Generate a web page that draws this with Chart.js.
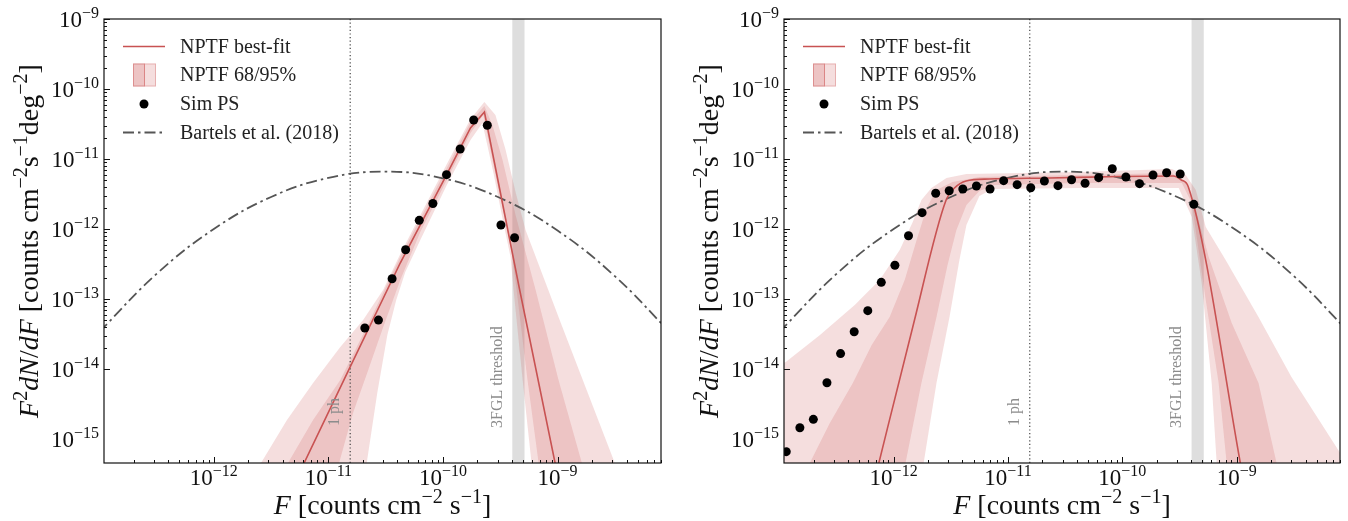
<!DOCTYPE html>
<html>
<head>
<meta charset="utf-8">
<script src="https://cdn.jsdelivr.net/npm/chart.js@4.4.0/dist/chart.umd.min.js"></script>
<style>
  html, body { margin: 0; padding: 0; background: #fff; }
  #wrap { display: flex; width: 1348px; height: 521px; }
  canvas { display: block; }
</style>
</head>
<body>
<div id="wrap">
  <canvas id="left" width="674" height="521"></canvas>
  <canvas id="right" width="674" height="521"></canvas>
</div>
<script>
// axis limits and tick labels (powers of ten)
const xLim = [1.1e-13, 8e-9];
const yLim = [4.54e-16, 1e-9];
const xTickExps = [-12, -11, -10, -9];
const yTickExps = [-15, -14, -13, -12, -11, -10, -9];
const legendLabels = ['NPTF best-fit', 'NPTF 68/95%', 'Sim PS', 'Bartels et al. (2018)'];

// flux bins of the simulated point sources [counts cm^-2 s^-1]
const fluxBins = [1.151e-13, 1.514e-13, 1.986e-13, 2.612e-13, 3.436e-13, 4.519e-13, 5.943e-13, 7.80e-13,
  1.026e-12, 1.349e-12, 1.774e-12, 2.333e-12, 3.062e-12, 4.027e-12, 5.297e-12, 6.966e-12, 9.162e-12,
  1.202e-11, 1.581e-11, 2.080e-11, 2.735e-11, 3.597e-11, 4.721e-11, 6.209e-11, 8.166e-11,
  1.074e-10, 1.413e-10, 1.854e-10, 2.438e-10, 3.206e-10, 4.217e-10];

// Sim PS, left panel (last 12 bins only)
const simLeft = [3.85e-14, 5.0e-14, 1.95e-13, 5.06e-13, 1.33e-12, 2.31e-12, 5.97e-12, 1.39e-11,
  3.61e-11, 3.03e-11, 1.14e-12, 7.5e-13];
// Sim PS, right panel (all bins)
const simRight = [6.59e-16, 1.45e-15, 1.91e-15, 6.37e-15, 1.66e-14, 3.41e-14, 6.81e-14, 1.73e-13,
  3.03e-13, 8.01e-13, 1.71e-12, 3.24e-12, 3.52e-12, 3.73e-12, 4.11e-12, 3.73e-12, 4.90e-12, 4.30e-12,
  3.89e-12, 4.85e-12, 4.16e-12, 5.06e-12, 4.50e-12, 5.41e-12, 7.26e-12, 5.53e-12, 4.44e-12, 5.91e-12,
  6.37e-12, 6.11e-12, 2.25e-12];

// NPTF best-fit curves
const fitLeftF = [5.21e-12, 1.549e-11, 4.236e-11, 1.072e-10, 1.738e-10, 2.301e-10, 4.656e-10, 1.064e-9];
const fitLeftY = [2.594e-16, 1.069e-14, 3.266e-13, 5.902e-12, 2.773e-11, 4.688e-11, 1.39e-13, 1.866e-16];
const fitRightF = [6.82e-13, 1.472e-12, 2.877e-12, 3.404e-12, 4.305e-12, 6.871e-12, 2.291e-11, 9.333e-11,
  2.793e-10, 3.281e-10, 3.776e-10, 1.148e-9];
const fitRightY = [2.59e-16, 4.02e-14, 2.594e-12, 3.855e-12, 4.853e-12, 5.176e-12, 5.358e-12, 5.623e-12,
  5.715e-12, 5.012e-12, 3.981e-12, 2.512e-16];

// NPTF bands, outline = upper edge left->right then lower edge right->left
const band95LeftF = [2.29e-12, 2.58e-12, 4.35e-12, 7.35e-12, 1.27e-11, 2.01e-11, 3.01e-11, 4.24e-11, 1.07e-10,
  1.74e-10, 2.30e-10, 2.87e-10, 3.52e-10, 4.30e-10, 5.26e-10, 1.06e-9, 3.16e-9, 3.57e-9,
  6.43e-10, 5.93e-10, 4.96e-10, 4.13e-10, 3.89e-10, 3.37e-10, 2.76e-10, 2.21e-10, 1.74e-10, 1.07e-10,
  6.34e-11, 4.69e-11, 3.91e-11, 3.27e-11, 2.67e-11, 2.18e-11, 2.09e-11];
const band95LeftY = [2.77e-16, 4.54e-16, 1.87e-15, 6.31e-15, 2.06e-14, 5.01e-14, 1.35e-13, 4.40e-13, 8.20e-12,
  3.73e-11, 6.52e-11, 4.25e-11, 1.35e-11, 3.38e-12, 9.68e-13, 4.69e-14, 4.54e-16, 2.77e-16,
  2.77e-16, 4.54e-16, 6.97e-15, 1.35e-13, 3.98e-13, 1.22e-12, 6.31e-12, 3.27e-11, 1.87e-11, 4.11e-12,
  6.97e-13, 2.43e-13, 9.68e-14, 3.06e-14, 4.54e-15, 5.01e-16, 2.77e-16];
const band68LeftF = [3.94e-12, 4.44e-12, 7.35e-12, 1.27e-11, 2.14e-11, 4.24e-11, 1.07e-10, 1.74e-10, 2.30e-10,
  2.70e-10, 3.31e-10, 4.30e-10, 6.43e-10, 1.02e-9, 1.63e-9, 1.76e-9,
  7.11e-10, 6.84e-10, 5.47e-10, 4.39e-10, 3.96e-10, 3.06e-10, 2.25e-10, 1.74e-10, 1.07e-10, 6.34e-11,
  4.24e-11, 3.01e-11, 2.18e-11, 1.64e-11, 1.24e-11, 1.19e-11];
const band68LeftY = [2.77e-16, 4.54e-16, 1.87e-15, 6.97e-15, 3.85e-14, 3.98e-13, 7.20e-12, 3.38e-11, 5.71e-11,
  3.06e-11, 9.68e-12, 1.59e-12, 1.35e-13, 6.97e-15, 4.54e-16, 2.77e-16,
  2.77e-16, 4.54e-16, 6.97e-15, 1.35e-13, 5.01e-13, 3.61e-12, 4.25e-11, 2.35e-11, 4.85e-12, 9.06e-13,
  1.87e-13, 3.98e-14, 8.77e-15, 2.35e-15, 4.54e-16, 2.77e-16];
const band95RightF = [8.30e-14, 1.14e-13, 2.27e-13, 4.57e-13, 7.55e-13, 1.13e-12, 1.47e-12, 1.75e-12, 2.14e-12,
  2.90e-12, 4.33e-12, 4.19e-11, 2.70e-10, 3.58e-10, 4.39e-10, 5.36e-10, 8.0e-10, 1.55e-9, 3.01e-9,
  8.55e-9, 9.46e-9, 9.46e-9,
  6.82e-10, 6.68e-10, 6.04e-10, 4.94e-10, 4.05e-10, 3.11e-10, 4.19e-11, 7.30e-12, 5.62e-12, 4.33e-12,
  3.76e-12, 3.08e-12, 2.37e-12, 1.83e-12, 1.75e-12, 8.30e-14];
const band95RightY = [9.36e-15, 1.26e-14, 3.06e-14, 8.20e-14, 1.87e-13, 5.01e-13, 1.26e-12, 2.59e-12, 3.86e-12,
  5.36e-12, 6.11e-12, 6.52e-12, 7.20e-12, 5.90e-12, 3.61e-12, 1.07e-12, 3.61e-13, 5.53e-14, 7.69e-15,
  5.36e-16, 3.61e-16, 1.35e-16,
  1.35e-16, 4.54e-16, 6.31e-15, 1.69e-13, 1.48e-12, 3.86e-12, 3.86e-12, 3.73e-12, 2.96e-12, 1.14e-12,
  3.61e-13, 5.53e-14, 6.31e-15, 4.54e-16, 1.35e-16, 1.35e-16];
const band68RightF = [1.68e-13, 1.85e-13, 2.77e-13, 4.40e-13, 6.43e-13, 9.23e-13, 1.25e-12, 1.59e-12, 1.94e-12,
  2.37e-12, 3.27e-12, 5.62e-12, 4.19e-11, 2.70e-10, 3.58e-10, 4.39e-10, 5.69e-10, 9.04e-10, 1.55e-9,
  2.23e-9, 2.37e-9,
  8.33e-10, 8.17e-10, 6.95e-10, 5.36e-10, 4.05e-10, 3.31e-10, 4.19e-11, 7.60e-12, 5.62e-12, 4.33e-12,
  3.54e-12, 2.96e-12, 2.37e-12, 1.75e-12, 1.27e-12, 1.20e-12];
const band68RightY = [2.59e-16, 4.54e-16, 1.69e-15, 6.31e-15, 2.20e-14, 5.53e-14, 1.87e-13, 6.97e-13, 2.0e-12,
  3.61e-12, 4.69e-12, 5.53e-12, 5.90e-12, 6.31e-12, 4.69e-12, 1.87e-12, 3.98e-13, 4.54e-14, 6.31e-15,
  4.54e-16, 2.59e-16,
  2.59e-16, 4.54e-16, 6.31e-15, 9.68e-14, 2.35e-12, 4.54e-12, 4.54e-12, 4.25e-12, 3.49e-12, 2.20e-12,
  9.68e-13, 3.06e-13, 5.53e-14, 6.31e-15, 4.54e-16, 2.59e-16];

// Bartels et al. (2018) source-count curve
const bartelsF = [1e-13, 3.162e-13, 1e-12, 3.162e-12, 1e-11, 3.162e-11, 1e-10, 3.162e-10, 1e-9, 3.162e-9, 1e-8];
const bartelsY = [3.38e-14, 2.28e-13, 1.0e-12, 2.87e-12, 5.38e-12, 6.61e-12, 5.30e-12, 2.77e-12, 9.5e-13, 2.12e-13, 3.10e-14];

// markers
const onePhFlux = 1.55e-11;
const thresholdF = [4.03e-10, 5.15e-10];

const fitColor = 'rgb(200,82,82)';
const bandColor = 'rgba(205,92,92,0.2)';
const dashColor = '#555';
const dashDot = [11, 4, 2.5, 4];
const SERIF = "'Liberation Serif', 'DejaVu Serif', serif";

const zip = (xs, ys) => xs.map((x, i) => ({x: x, y: ys[i]}));

function fontOf(style, size) {
    const s = style.includes('s') ? Math.round(size * 0.7) : size;
    return (style.includes('i') ? 'italic ' : '') + s + 'px ' + SERIF;
}

function richWidth(ctx, parts, size) {
    let w = 0;
    parts.forEach(p => {
        ctx.font = fontOf(p[1], size);
        w += ctx.measureText(p[0]).width;
    });
    return w;
}

// draws [text, style] pieces along a baseline; style 'i' italic, 's' superscript
function drawRich(ctx, parts, x, y, size) {
    let cx = x;
    parts.forEach(p => {
        ctx.font = fontOf(p[1], size);
        const dy = p[1].includes('s') ? -size * 0.4 : 0;
        ctx.fillText(p[0], cx, y + dy);
        cx += ctx.measureText(p[0]).width;
    });
}

const powParts = e => [['10', ''], ['\u2212' + Math.abs(e), 's']];

const xTitle = [['F', 'i'], [' [counts cm', ''], ['\u22122', 's'], [' s', ''], ['\u22121', 's'], [']', '']];
const yTitle = [['F', 'i'], ['2', 's'], ['dN', 'i'], ['/', ''], ['dF', 'i'], [' [counts cm', ''], ['\u22122', 's'],
    ['s', ''], ['\u22121', 's'], ['deg', ''], ['\u22122', 's'], [']', '']];

const mplAxes = {
    id: 'mplAxes',
    afterDraw(chart) {
        const ctx = chart.ctx;
        const a = chart.chartArea;
        const xs = chart.scales.x, ys = chart.scales.y;
        ctx.save();
        ctx.textAlign = 'left';
        ctx.textBaseline = 'alphabetic';

        // ticks pointing inward, left and bottom only
        ctx.strokeStyle = '#111';
        ctx.lineWidth = 1;
        ctx.beginPath();
        for (let e = -14; e <= -8; e++) {
            for (let m = 1; m <= 9; m++) {
                const v = m * Math.pow(10, e);
                const len = m === 1 ? 6 : 3;
                if (v >= xLim[0] && v <= xLim[1]) {
                    const px = Math.round(xs.getPixelForValue(v)) + 0.5;
                    ctx.moveTo(px, a.bottom);
                    ctx.lineTo(px, a.bottom - len);
                }
                if (v >= yLim[0] && v <= yLim[1]) {
                    const py = Math.round(ys.getPixelForValue(v)) + 0.5;
                    ctx.moveTo(a.left, py);
                    ctx.lineTo(a.left + len, py);
                }
            }
        }
        ctx.stroke();

        // frame
        ctx.lineWidth = 1.2;
        ctx.strokeRect(a.left, a.top, a.right - a.left, a.bottom - a.top);

        // tick labels
        ctx.fillStyle = '#111';
        const ts = 23;
        xTickExps.forEach(e => {
            const parts = powParts(e);
            const w = richWidth(ctx, parts, ts);
            drawRich(ctx, parts, xs.getPixelForValue(Math.pow(10, e)) - w / 2, a.bottom + 22, ts);
        });
        yTickExps.forEach(e => {
            const parts = powParts(e);
            const w = richWidth(ctx, parts, ts);
            drawRich(ctx, parts, a.left - 5 - w, ys.getPixelForValue(Math.pow(10, e)) + 7.8, ts);
        });

        // axis titles
        const fs = 28;
        const wx = richWidth(ctx, xTitle, fs);
        drawRich(ctx, xTitle, (a.left + a.right) / 2 - wx / 2, 514, fs);
        const wy = richWidth(ctx, yTitle, fs);
        ctx.save();
        ctx.translate(a.left - 66, (a.top + a.bottom) / 2);
        ctx.rotate(-Math.PI / 2);
        drawRich(ctx, yTitle, -wy / 2, 0, fs);
        ctx.restore();

        // rotated marker labels
        ctx.fillStyle = '#8c8c8c';
        ctx.font = '16px ' + SERIF;
        ctx.textBaseline = 'middle';
        [[onePhFlux, '1 ph', 426], [thresholdF[0], '3FGL threshold', 428]].forEach(m => {
            ctx.save();
            ctx.translate(xs.getPixelForValue(m[0]) - 15, m[2]);
            ctx.rotate(-Math.PI / 2);
            ctx.fillText(m[1], 0, 0);
            ctx.restore();
        });

        // legend
        const rows = [a.top + 27.5, a.top + 56, a.top + 85, a.top + 113.5];
        const h0 = a.left + 19, h1 = a.left + 61;
        ctx.lineWidth = 1.6;
        ctx.strokeStyle = fitColor;
        ctx.beginPath();
        ctx.moveTo(h0, rows[0]);
        ctx.lineTo(h1, rows[0]);
        ctx.stroke();

        ctx.lineWidth = 1;
        ctx.fillStyle = 'rgba(205,92,92,0.36)';
        ctx.strokeStyle = 'rgba(205,92,92,0.5)';
        ctx.fillRect(a.left + 29, rows[1] - 11.5, 11, 23);
        ctx.strokeRect(a.left + 29.5, rows[1] - 11, 11, 22);
        ctx.fillStyle = bandColor;
        ctx.strokeStyle = 'rgba(205,92,92,0.35)';
        ctx.fillRect(a.left + 40, rows[1] - 11.5, 12, 23);
        ctx.strokeRect(a.left + 40.5, rows[1] - 11, 11, 22);

        ctx.fillStyle = '#000';
        ctx.beginPath();
        ctx.arc(a.left + 40, rows[2], 4.5, 0, Math.PI * 2);
        ctx.fill();

        ctx.strokeStyle = dashColor;
        ctx.lineWidth = 1.8;
        ctx.setLineDash(dashDot);
        ctx.beginPath();
        ctx.moveTo(h0, rows[3]);
        ctx.lineTo(h1, rows[3]);
        ctx.stroke();
        ctx.setLineDash([]);

        ctx.fillStyle = '#222';
        ctx.font = '20px ' + SERIF;
        legendLabels.forEach((t, i) => ctx.fillText(t, a.left + 76, rows[i] + 1));
        ctx.restore();
    }
};

function makePanel(id, p) {
    return new Chart(document.getElementById(id), {
        type: 'line',
        data: {
            datasets: [
                {
                    label: 'Sim PS', data: zip(p.simF, p.simY), showLine: false,
                    pointRadius: 4.5, pointBackgroundColor: '#000', pointBorderWidth: 0, order: 0
                },
                {
                    label: 'NPTF best-fit', data: zip(p.fitF, p.fitY), borderColor: fitColor, borderWidth: 1.6,
                    pointRadius: 0, fill: false, cubicInterpolationMode: p.fitMode, order: 1
                },
                {
                    label: '1 ph', data: [{x: onePhFlux, y: yLim[0]}, {x: onePhFlux, y: yLim[1]}],
                    borderColor: '#444', borderWidth: 1.2, borderDash: [1.2, 2.4], pointRadius: 0, order: 2
                },
                {
                    label: 'Bartels et al. (2018)', data: zip(bartelsF, bartelsY), borderColor: dashColor,
                    borderWidth: 1.8, borderDash: dashDot, tension: 0.4, pointRadius: 0, order: 3
                },
                {
                    label: 'NPTF 68%', data: zip(p.b68F, p.b68Y), borderWidth: 0, borderColor: 'transparent',
                    backgroundColor: bandColor, fill: 'shape', pointRadius: 0, order: 4
                },
                {
                    label: 'NPTF 95%', data: zip(p.b95F, p.b95Y), borderWidth: 0, borderColor: 'transparent',
                    backgroundColor: bandColor, fill: 'shape', pointRadius: 0, order: 5
                },
                {
                    label: '3FGL threshold',
                    data: [{x: thresholdF[0], y: yLim[0]}, {x: thresholdF[0], y: yLim[1]},
                        {x: thresholdF[1], y: yLim[1]}, {x: thresholdF[1], y: yLim[0]}],
                    borderWidth: 0, borderColor: 'transparent', backgroundColor: '#dedede',
                    fill: 'shape', pointRadius: 0, order: 6
                }
            ]
        },
        options: {
            responsive: false,
            animation: false,
            devicePixelRatio: 1,
            layout: {padding: {left: p.padLeft, right: p.padRight, top: 19, bottom: 58}},
            scales: {
                x: {type: 'logarithmic', min: xLim[0], max: xLim[1], display: false},
                y: {type: 'logarithmic', min: yLim[0], max: yLim[1], display: false}
            },
            plugins: {legend: {display: false}, tooltip: {enabled: false}}
        },
        plugins: [mplAxes]
    });
}

makePanel('left', {
    simF: fluxBins.slice(19), simY: simLeft,
    fitF: fitLeftF, fitY: fitLeftY, fitMode: 'default',
    b68F: band68LeftF, b68Y: band68LeftY, b95F: band95LeftF, b95Y: band95LeftY,
    padLeft: 104, padRight: 13
});
makePanel('right', {
    simF: fluxBins, simY: simRight,
    fitF: fitRightF, fitY: fitRightY, fitMode: 'monotone',
    b68F: band68RightF, b68Y: band68RightY, b95F: band95RightF, b95Y: band95RightY,
    padLeft: 110, padRight: 8
});
</script>
</body>
</html>
